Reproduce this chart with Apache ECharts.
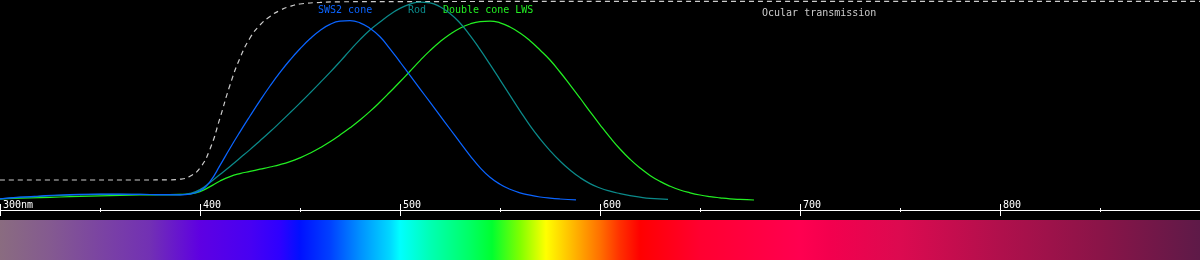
<!DOCTYPE html>
<html>
<head>
<meta charset="utf-8">
<script src="https://cdn.jsdelivr.net/npm/echarts@6/dist/echarts.min.js"></script>
<style>
html,body{margin:0;padding:0;background:#000;}
#c{width:1200px;height:260px;}
</style>
</head>
<body>
<div id="c"></div>
<script>
// wavelength (nm), relative value (0..105 scale)
const sws2Cone = [[300,5.6],[310,6.4],[320,7],[330,7.5],[340,7.8],[350,7.9],[360,7.9],[370,7.8],[380,7.7],[390,7.6],[395,7.9],[400,9.6],[405,14.2],[410,22.3],[415,30.9],[420,39.1],[425,47],[430,54.7],[435,62],[440,68.8],[445,75],[450,80.6],[455,85.6],[460,89.8],[465,92.8],[470,94.4],[475,94.7],[480,93.6],[485,90.8],[490,86.6],[495,80.6],[500,74],[505,67.3],[510,60.6],[515,53.9],[520,47.2],[525,40.5],[530,33.8],[535,27.2],[540,21.2],[545,16.4],[550,12.9],[555,10.4],[560,8.6],[565,7.4],[570,6.5],[575,5.9],[580,5.5],[588,5.1]];
const rod = [[300,5.6],[310,6.3],[320,6.8],[330,7.3],[340,7.6],[350,7.8],[360,7.8],[370,7.8],[380,7.6],[390,7.6],[395,8.3],[400,10.2],[405,13.8],[410,17.8],[415,21.8],[420,26],[425,30.2],[430,34.6],[435,39.1],[440,43.8],[445,48.6],[450,53.5],[455,58.5],[460,63.6],[465,68.8],[470,74.2],[475,79.8],[480,85.2],[485,90],[490,94],[495,97.8],[500,100.8],[505,102.9],[510,104],[515,103.6],[520,101.6],[525,98.3],[530,93.5],[535,87.3],[540,80.3],[545,72.8],[550,65.1],[555,57.3],[560,49.6],[565,42.2],[570,35.6],[575,29.7],[580,24.5],[585,20],[590,16.2],[595,13.2],[600,11],[605,9.4],[610,8.2],[615,7.2],[620,6.4],[625,5.8],[634,5.3]];
const doubleConeLWS = [[300,5.5],[310,5.9],[320,6.2],[330,6.5],[340,6.8],[350,7.1],[360,7.3],[370,7.5],[380,7.7],[390,7.8],[395,8.1],[400,9.2],[405,11.7],[410,14.5],[415,16.7],[420,18.2],[425,19.3],[430,20.4],[435,21.5],[440,22.7],[445,24.2],[450,26.1],[455,28.4],[460,31.1],[465,34.1],[470,37.5],[475,41.1],[480,45],[485,49.3],[490,54],[495,59],[500,64.1],[505,69.4],[510,74.7],[515,79.7],[520,84.1],[525,87.9],[530,90.9],[535,93],[540,94.2],[545,94.5],[550,93.6],[555,91.5],[560,88.5],[565,84.6],[570,80],[575,75],[580,69],[585,62.6],[590,56],[595,49.2],[600,42.6],[605,36.3],[610,30.5],[615,25.4],[620,21],[625,17.3],[630,14.3],[635,11.9],[640,10],[645,8.6],[650,7.5],[655,6.7],[660,6.1],[665,5.6],[670,5.3],[677,5]];
const ocularTransmission = [[300,15],[340,15],[370,15],[385,15.1],[390,15.4],[395,16.9],[400,21],[405,30.5],[410,46],[415,62.5],[420,76],[425,86],[430,92.5],[435,96.8],[440,99.8],[445,101.8],[450,103],[460,103.8],[470,104.1],[500,104.2],[600,104.3],[900,104.3]];
const xTicks = [300,400,500,600,700,800,900];
const firstTickUnit = 'nm';
const seriesNames = ['SWS2 cone','Rod','Double cone LWS','Ocular transmission'];
// spectrum strip: wavelength (nm) -> colour
const spectrumNm = [300,325,350,375,400,425,440,450,465,480,495,500,515,535,546,560,573,585,600,610,620,650,700,715,750,800,850,900];
const spectrumColor = ['#8a6c80','#845a90','#7b44a2','#7230b4','#5e00e2','#4800f2','#2e00ff','#0010ff','#0040ff','#0090ff','#00d8ff','#00ffff','#00ffb4','#00ff64','#00ff30','#80ff00','#ffff00','#ffc000','#ff7000','#ff3000','#ff0000','#ff0030','#ff0050','#f3004e','#dc0a50','#b0104c','#8a1448','#5e1a48'];

const colors = {sws:'#0a64ff', rod:'#0b8a8a', lws:'#22ee22', ocular:'#cccccc'};
const xMin = xTicks[0], xMax = xTicks[xTicks.length-1];

const chart = echarts.init(document.getElementById('c'), null, {renderer:'canvas'});
const font = 'DejaVu Sans Mono';
const stops = spectrumNm.map((nm,i)=>({offset:(nm-xMin)/(xMax-xMin), color:spectrumColor[i]}));

function lineSeries(name, data, color, extra){
  return Object.assign({
    name, type:'line', data, xAxisIndex:0, yAxisIndex:0,
    symbol:'none', smooth:0.5, silent:true,
    lineStyle:{color, width:1.25}
  }, extra||{});
}

chart.setOption({
  backgroundColor:'#000',
  animation:false,
  grid:[
    {left:0,right:0,top:0,bottom:50,containLabel:false},
    {left:0,right:0,top:220,bottom:0,containLabel:false}
  ],
  xAxis:[
    {type:'value', gridIndex:0, min:xMin, max:xMax, interval:100, position:'bottom',
     axisLine:{show:true, lineStyle:{color:'#fff', width:1}},
     axisTick:{show:true, inside:false, length:6, lineStyle:{color:'#fff'}},
     minorTick:{show:true, splitNumber:2, length:2, lineStyle:{color:'#fff'}},
     splitLine:{show:false},
     axisLabel:{show:true, inside:true, margin:0, color:'#fff', fontFamily:font, fontSize:10,
       align:'left', verticalAlign:'bottom', padding:[0,0,0,3], showMaxLabel:false, showMinLabel:true,
       formatter:(v)=> v===xTicks[0] ? v+firstTickUnit : String(v)}
    },
    {type:'value', gridIndex:0, min:xMin, max:xMax, interval:100, position:'bottom',
     axisLine:{show:false},
     axisTick:{show:true, inside:true, length:6, lineStyle:{color:'#fff'}},
     minorTick:{show:true, splitNumber:2, length:2, lineStyle:{color:'#fff'}},
     splitLine:{show:false}, axisLabel:{show:false}
    },
    {type:'value', gridIndex:1, min:xMin, max:xMax, show:false}
  ],
  yAxis:[
    {type:'value', gridIndex:0, min:0, max:105, show:false},
    {type:'value', gridIndex:1, min:0, max:1, show:false}
  ],
  series:[
    lineSeries(seriesNames[3], ocularTransmission, colors.ocular, {lineStyle:{color:colors.ocular, width:1.2, type:[5,4]}}),
    lineSeries(seriesNames[2], doubleConeLWS, colors.lws),
    lineSeries(seriesNames[1], rod, colors.rod),
    lineSeries(seriesNames[0], sws2Cone, colors.sws),
    {type:'line', xAxisIndex:2, yAxisIndex:1, data:[[xMin,1],[xMax,1]], symbol:'none', silent:true,
     lineStyle:{width:0}, areaStyle:{opacity:1, color:{type:'linear',x:0,y:0,x2:1,y2:0,colorStops:stops}}}
  ],
  graphic:[
    {type:'text', left:318, top:5, style:{text:seriesNames[0], fill:colors.sws, font:'10px '+font}},
    {type:'text', left:408, top:5, style:{text:seriesNames[1], fill:colors.rod, font:'10px '+font}},
    {type:'text', left:443, top:5, style:{text:seriesNames[2], fill:colors.lws, font:'10px '+font}},
    {type:'text', left:762, top:8, style:{text:seriesNames[3], fill:colors.ocular, font:'10px '+font}}
  ]
});
</script>
</body>
</html>
